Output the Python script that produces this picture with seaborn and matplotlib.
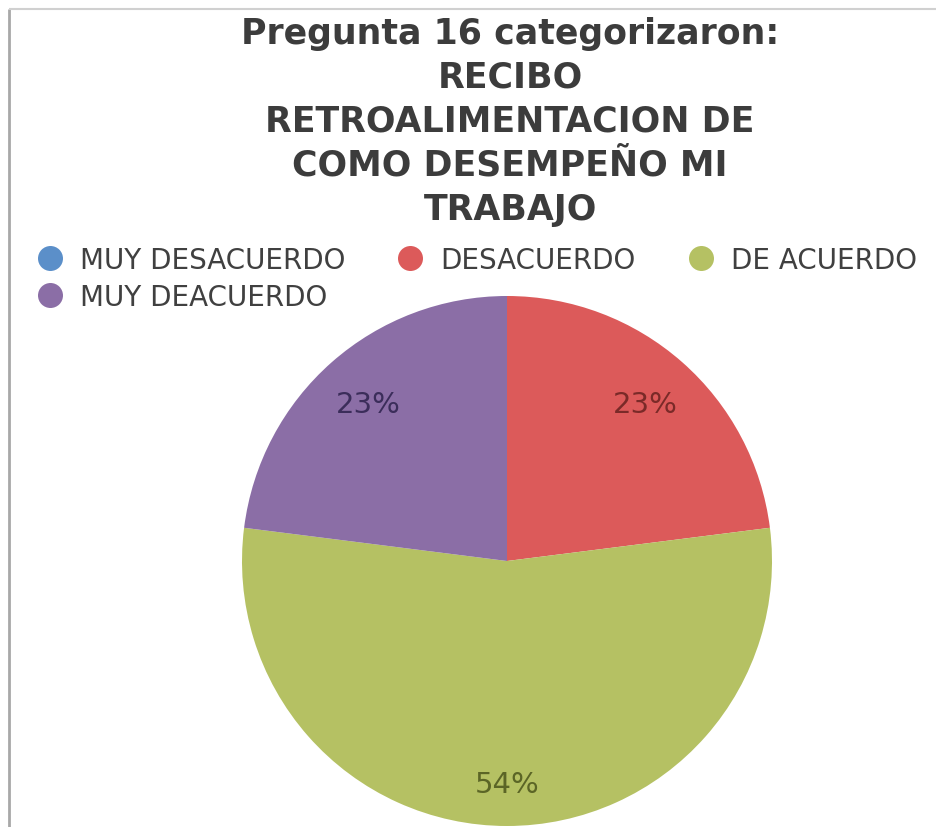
import numpy as np
import matplotlib
matplotlib.use("Agg")
import matplotlib.pyplot as plt
from matplotlib.lines import Line2D
import seaborn as sns

# Survey answers and their shares (percent)
categories = ["MUY DESACUERDO", "DESACUERDO", "DE ACUERDO", "MUY DEACUERDO"]
shares = [0, 23, 54, 23]
slice_colors = ["#5b8fc9", "#dc5a5a", "#b5c163", "#8b6ea6"]
label_colors = ["#27456b", "#7a2a28", "#5b6526", "#3b2d5a"]
label_radius = [0.8, 0.79, 0.84, 0.79]
title_lines = ["Pregunta 16 categorizaron:", "RECIBO", "RETROALIMENTACION DE",
               "COMO DESEMPEÑO MI", "TRABAJO"]

sns.set_theme(style="white")
plt.rcParams["font.family"] = ["DejaVu Sans"]

W, H = 936, 828
fig = plt.figure(figsize=(W / 100, H / 100), dpi=100)
fig.patch.set_facecolor("white")
ax = fig.add_axes([0, 0, 1, 1])

cx, cy, R = 507, H - 562, 265
wedges, _ = ax.pie(shares, colors=slice_colors, startangle=90, counterclock=False,
                   center=(cx, cy), radius=R, wedgeprops=dict(linewidth=0))

# percentage labels inside each non-empty slice
for w, val, col, rf in zip(wedges, shares, label_colors, label_radius):
    if val <= 0:
        continue
    ang = np.deg2rad((w.theta1 + w.theta2) / 2)
    ax.text(cx + rf * R * np.cos(ang), cy + rf * R * np.sin(ang), f"{val}%",
            ha="center", va="center", fontsize=21, color=col)

ax.set_xlim(0, W)
ax.set_ylim(0, H)
ax.set_aspect("equal")
ax.axis("off")

# chart border
ax.plot([9, 9], [0, H - 10], color="#a8a8a8", lw=2, solid_capstyle="butt")
ax.plot([9, W], [H - 10, H - 10], color="#d0d0d0", lw=1.5, solid_capstyle="butt")

fig.text(0.545, 1 - 17 / H, "\n".join(title_lines), ha="center", va="top",
         fontsize=25, fontweight="bold", color="#3c3c3c", linespacing=1.37)

# legend: first column holds two entries so it reads row by row
order = [0, 3, 1, 2]
handles = [Line2D([], [], marker="o", ls="none", markersize=18,
                  markerfacecolor=slice_colors[i], markeredgewidth=0) for i in order]
fig.legend(handles, [categories[i] for i in order], loc="upper left",
           bbox_to_anchor=(36 / W, 1 - 247 / H), ncol=3, frameon=False,
           fontsize=20, labelcolor="#404040", handletextpad=0.58,
           columnspacing=1.84, labelspacing=0.33, borderpad=0, borderaxespad=0,
           handlelength=1.0)

fig.savefig("out.png", dpi=100)
